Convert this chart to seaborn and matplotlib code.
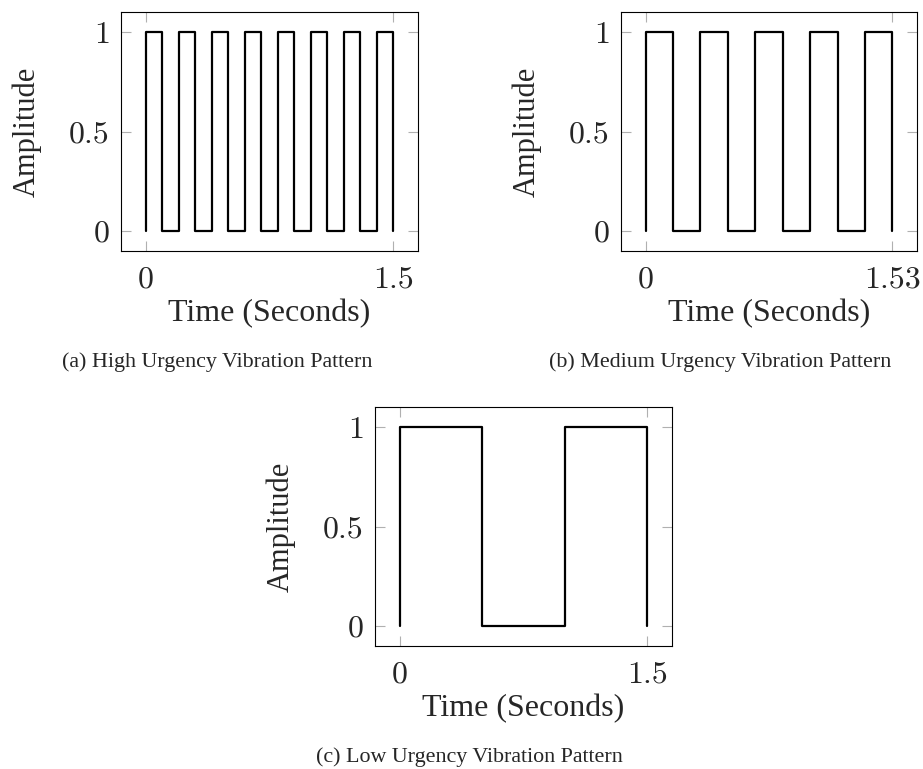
import matplotlib
matplotlib.use("Agg")
import matplotlib.pyplot as plt
import seaborn as sns

# Switching instants (s) and the amplitude held after each instant
high_t = [0, 0, 0.1, 0.2, 0.3, 0.4, 0.5, 0.6, 0.7, 0.8, 0.9, 1.0, 1.1, 1.2, 1.3, 1.4, 1.5]
high_a = [0, 1, 0, 1, 0, 1, 0, 1, 0, 1, 0, 1, 0, 1, 0, 1, 0]

medium_t = [0, 0, 0.17, 0.34, 0.51, 0.68, 0.85, 1.02, 1.19, 1.36, 1.53]
medium_a = [0, 1, 0, 1, 0, 1, 0, 1, 0, 1, 0]

low_t = [0, 0, 0.5, 1.0, 1.5]
low_a = [0, 1, 0, 1, 0]

y_ticks = [0, 0.5, 1]
y_tick_labels = ["0", "0.5", "1"]

panels = [
    (high_t, high_a, [0, 1.5], ["0", "1.5"], "(a) High Urgency Vibration Pattern"),
    (medium_t, medium_a, [0, 1.53], ["0", "1.53"], "(b) Medium Urgency Vibration Pattern"),
    (low_t, low_a, [0, 1.5], ["0", "1.5"], "(c) Low Urgency Vibration Pattern"),
]

sns.set_style("white")
W, H = 923, 769
fig = plt.figure(figsize=(W / 100, H / 100), dpi=100)

# axes boxes in pixels: left, top, width, height
boxes = [(121, 12, 297, 239), (621, 12, 296, 239), (375, 407, 297, 239)]
caption_pos = [(217, 362), (720, 362), (469, 757)]

serif = ["Liberation Serif", "DejaVu Serif"]
tick_font = ["cmr10", "DejaVu Serif"]

for (t, a, xt, xtl, caption), (l, tp, w, h), (cx, cy) in zip(panels, boxes, caption_pos):
    ax = fig.add_axes([l / W, 1 - (tp + h) / H, w / W, h / H])
    sns.lineplot(x=t, y=a, ax=ax, drawstyle="steps-post", estimator=None,
                 sort=False, color="black", linewidth=1.6)
    span = xt[-1] - xt[0]
    ax.set_xlim(xt[0] - 0.1 * span, xt[-1] + 0.1 * span)
    ax.set_ylim(-0.1, 1.1)
    ax.set_xticks(xt)
    ax.set_xticklabels(xtl, fontfamily=tick_font, fontsize=23)
    ax.set_yticks(y_ticks)
    ax.set_yticklabels(y_tick_labels, fontfamily=tick_font, fontsize=23)
    ax.tick_params(axis="both", which="major", direction="in", length=7.5,
                   width=0.8, color="#b0b0b0", top=True, right=True,
                   bottom=True, left=True)
    ax.tick_params(axis="x", pad=11)
    ax.tick_params(axis="y", pad=8)
    for s in ax.spines.values():
        s.set_visible(True)
        s.set_color("black")
        s.set_linewidth(0.8)
    ax.grid(False)

    ax.set_xlabel("Time (Seconds)", fontfamily=serif, fontsize=23)
    ax.xaxis.label.set_va("center")
    ax.xaxis.set_label_coords(0.5, -63 / h)
    ax.set_ylabel("Amplitude", fontfamily=serif, fontsize=22)
    ax.yaxis.label.set_va("center")
    ax.yaxis.set_label_coords(-94 / w, 0.5)

    fig.text(cx / W, 1 - cy / H, caption, ha="center", va="center",
             fontfamily=serif, fontsize=15.8)

fig.savefig("out.png", dpi=100)
